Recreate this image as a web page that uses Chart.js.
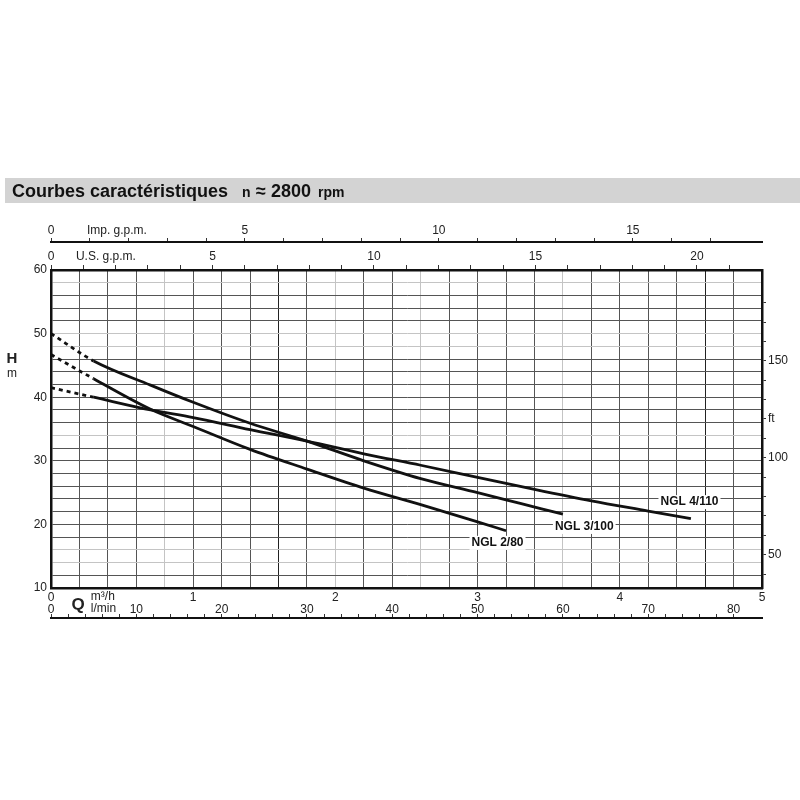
<!DOCTYPE html>
<html>
<head>
<meta charset="utf-8">
<script src="https://cdn.jsdelivr.net/npm/chart.js@4.4.1/dist/chart.umd.min.js"></script>
<style>
  html, body { margin: 0; padding: 0; background: #fff; }
  #wrap { width: 800px; height: 800px; }
</style>
</head>
<body>
<div id="wrap"><canvas id="curveChart" width="800" height="800"></canvas></div>
<script>
// pump curves: Q in m3/h, H in m
const qNgl280 = [0, 0.3, 0.7, 1.0, 1.4, 1.8, 2.2, 2.6, 3.0, 3.2];
const hNgl280 = [46.7, 42.9, 38.1, 35.4, 31.8, 28.7, 25.7, 23.1, 20.4, 19.0];

const qNgl3100 = [0, 0.3, 0.7, 1.0, 1.4, 1.8, 2.2, 2.6, 3.0, 3.3, 3.6];
const hNgl3100 = [50.0, 45.7, 41.9, 39.2, 35.9, 33.1, 30.0, 27.2, 25.0, 23.3, 21.6];

const qNgl4110 = [0, 0.3, 0.7, 1.0, 1.4, 1.8, 2.2, 2.6, 3.0, 3.4, 3.8, 4.2, 4.5];
const hNgl4110 = [41.5, 40.0, 38.0, 36.8, 34.9, 33.1, 31.1, 29.3, 27.4, 25.5, 23.7, 22.1, 20.9];

const curveNames = ["NGL 2/80", "NGL 3/100", "NGL 4/110"];
// where each name sits (Q, H)
const nameQ = [3.14, 3.75, 4.49];
const nameH = [17.1, 19.6, 23.5];

// axis ranges / tick labels
const qMax = 5;
const hMin = 10, hMax = 60;
const hLabels = [10, 20, 30, 40, 50, 60];
const ftLabels = [50, 100, 150];
const US_GPM = 4.40287, IMP_GPM = 3.66614, LMIN = 1000 / 60, FT = 3.28084;

const DASH_END = 0.3; // curves are dashed below this flow

const FONT = "'Liberation Sans', Arial, sans-serif";

const pts = (qs, hs) => qs.map((q, i) => ({ x: q, y: hs[i] }));
const near = (v, step) => Math.abs(v / step - Math.round(v / step)) < 1e-6;
const keepSteps = step => scale => { scale.ticks = scale.ticks.filter(t => near(t.value, step)); };
const fixH = h => scale => { scale.height = h; };
const fixW = w => scale => { scale.width = w; };

// scan-like grid: some lines lighter, a couple darker
const lightQ = [4, 10, 13, 18];
const darkQ = [8, 23];
const lightH = [58, 50, 48, 34, 16, 14];

function curve(label, data) {
  return {
    label, data,
    borderColor: "#111",
    borderWidth: 2.8,
    pointRadius: 0,
    cubicInterpolationMode: "monotone",
    segment: {
      borderDash: ctx => ctx.p0.parsed.x < DASH_END - 1e-6 ? [4, 4] : undefined
    }
  };
}

const textPlugin = {
  id: "sheetText",
  beforeDraw(chart) {
    const c = chart.ctx;
    c.save();
    c.fillStyle = "#fff";
    c.fillRect(0, 0, chart.width, chart.height);
    // title band
    c.fillStyle = "#d3d3d3";
    c.fillRect(5, 178, 795, 25);
    c.fillStyle = "#111";
    c.textBaseline = "alphabetic";
    c.font = "bold 18px " + FONT;
    c.fillText("Courbes caractéristiques", 12, 197);
    c.font = "bold 14px " + FONT;
    c.fillText("n", 242, 197);
    c.font = "bold 18px " + FONT;
    c.fillText("≈ 2800", 256, 197);
    c.font = "bold 14px " + FONT;
    c.fillText("rpm", 318, 197);
    c.restore();
  },
  afterDraw(chart) {
    const c = chart.ctx;
    const s = chart.scales;
    c.save();
    c.fillStyle = "#222";
    c.textBaseline = "middle";
    c.textAlign = "center";
    c.font = "12px " + FONT;
    c.fillText("Imp. g.p.m.", s.ximp.getPixelForValue(1.7), s.ximp.bottom - 11);
    c.fillText("U.S. g.p.m.", s.xus.getPixelForValue(1.7), s.xus.bottom - 13);
    c.font = "bold 15px " + FONT;
    c.fillText("H", 12, s.y.getPixelForValue(46));
    c.font = "12px " + FONT;
    c.fillText("m", 12, s.y.getPixelForValue(43.7));
    c.font = "bold 17px " + FONT;
    c.fillText("Q", s.x.getPixelForValue(0.19), s.xl.top + 3);
    c.textAlign = "left";
    c.font = "12px " + FONT;
    c.fillText("m³/h", s.x.getPixelForValue(0.28), s.x.top + 9);
    c.fillText("l/min", s.x.getPixelForValue(0.28), s.xl.top + 7);

    // curve names on white
    c.font = "bold 12px " + FONT;
    c.textAlign = "center";
    curveNames.forEach((n, i) => {
      const px = s.x.getPixelForValue(nameQ[i]);
      const py = s.y.getPixelForValue(nameH[i]);
      const w = c.measureText(n).width + 4;
      c.fillStyle = "#fff";
      c.fillRect(px - w / 2, py - 7, w, 14);
      c.fillStyle = "#111";
      c.fillText(n, px, py);
    });
    c.restore();
  }
};

const tickFont = { family: FONT, size: 12 };

new Chart(document.getElementById("curveChart"), {
  type: "line",
  data: {
    datasets: [
      curve(curveNames[0], pts(qNgl280, hNgl280)),
      curve(curveNames[1], pts(qNgl3100, hNgl3100)),
      curve(curveNames[2], pts(qNgl4110, hNgl4110))
    ]
  },
  options: {
    responsive: false,
    animation: false,
    layout: { padding: { top: 222, bottom: 176, left: 0, right: 0 } },
    plugins: { legend: { display: false }, tooltip: { enabled: false } },
    scales: {
      x: {
        type: "linear", position: "bottom", weight: 0,
        min: 0, max: qMax,
        afterBuildTicks: keepSteps(0.2),
        afterFit: fixH(14),
        ticks: {
          stepSize: 0.2, autoSkip: false, maxRotation: 0, padding: 2,
          color: "#222", font: tickFont,
          callback: v => near(v, 1) ? Math.round(v) : ""
        },
        grid: {
          drawTicks: false,
          lineWidth: 1,
          color: ctx => {
            const i = Math.round(ctx.tick.value / 0.2);
            if (lightQ.includes(i)) return "#c4c4c4";
            if (darkQ.includes(i)) return "#222";
            return "#555";
          }
        },
        border: { color: "#111", width: 2.5 }
      },
      xl: {
        type: "linear", position: "bottom", weight: 1,
        min: 0, max: qMax * LMIN,
        afterBuildTicks: keepSteps(2),
        afterFit: fixH(16),
        ticks: {
          stepSize: 2, autoSkip: false, maxRotation: 0, padding: 0,
          color: "#222", font: tickFont,
          callback: v => near(v, 10) ? Math.round(v) : ""
        },
        grid: { drawOnChartArea: false, drawTicks: false },
        border: { display: false }
      },
      xl2: {
        type: "linear", position: "bottom", weight: 2,
        min: 0, max: qMax * LMIN,
        afterBuildTicks: keepSteps(2),
        afterFit: fixH(6),
        ticks: { stepSize: 2, autoSkip: false, display: false },
        grid: { drawOnChartArea: false, drawTicks: true, tickLength: -4, color: "#333" },
        border: { color: "#111", width: 2 }
      },
      xus: {
        type: "linear", position: "top", weight: 0,
        min: 0, max: qMax * US_GPM,
        afterBuildTicks: keepSteps(1),
        afterFit: fixH(28),
        ticks: {
          stepSize: 1, autoSkip: false, maxRotation: 0, padding: 1,
          color: "#222", font: tickFont,
          callback: v => near(v, 5) ? Math.round(v) : ""
        },
        grid: { drawOnChartArea: false, tickLength: 5, color: "#333" },
        border: { color: "#111", width: 2.5 }
      },
      ximp: {
        type: "linear", position: "top", weight: 1,
        min: 0, max: qMax * IMP_GPM,
        afterBuildTicks: keepSteps(1),
        afterFit: fixH(20),
        ticks: {
          stepSize: 1, autoSkip: false, maxRotation: 0, padding: 0,
          color: "#222", font: tickFont,
          callback: v => near(v, 5) ? Math.round(v) : ""
        },
        grid: { drawOnChartArea: false, tickLength: 4, color: "#333" },
        border: { color: "#111", width: 2 }
      },
      y: {
        type: "linear", position: "left",
        min: hMin, max: hMax,
        afterFit: fixW(51),
        ticks: {
          stepSize: 2, autoSkip: false, padding: 4,
          color: "#222", font: tickFont,
          callback: v => hLabels.includes(Math.round(v)) && near(v, 1) ? Math.round(v) : ""
        },
        grid: {
          drawTicks: false,
          lineWidth: 1,
          color: ctx => lightH.includes(Math.round(ctx.tick.value)) ? "#c4c4c4" : "#555"
        },
        border: { color: "#111", width: 2.5 }
      },
      yft: {
        type: "linear", position: "right",
        min: hMin * FT, max: hMax * FT,
        afterBuildTicks: keepSteps(10),
        afterFit: fixW(38),
        ticks: {
          stepSize: 10, autoSkip: false, padding: 2,
          color: "#222", font: tickFont,
          callback: v => {
            const r = Math.round(v);
            if (ftLabels.includes(r)) return r;
            return r === 120 ? "ft" : "";
          }
        },
        grid: { drawOnChartArea: false, tickLength: 4, color: "#333" },
        border: { color: "#111", width: 2.5 }
      }
    }
  },
  plugins: [textPlugin]
});
</script>
</body>
</html>
